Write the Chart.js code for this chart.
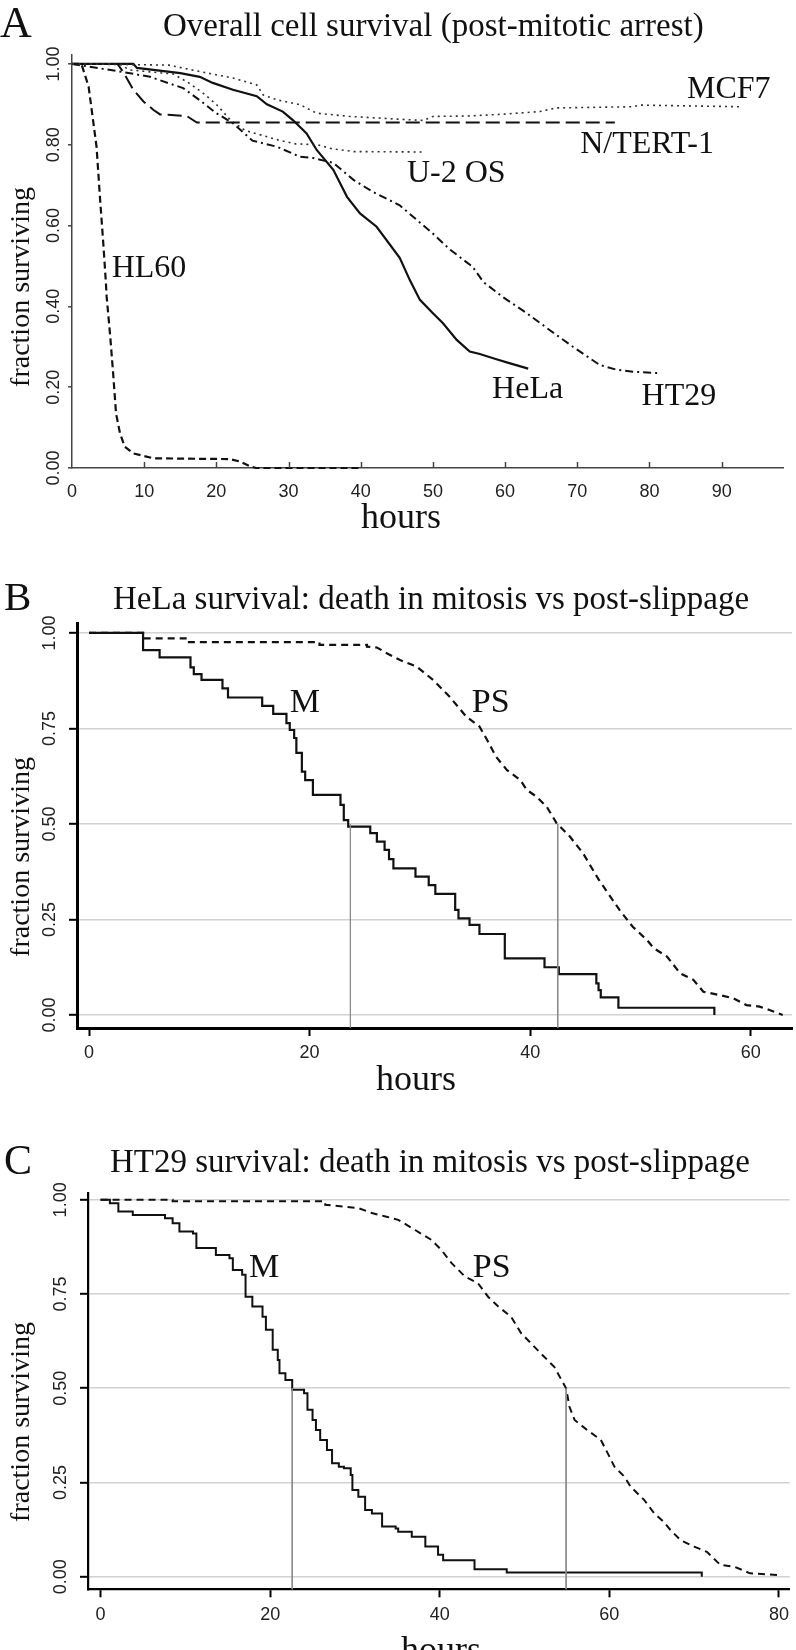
<!DOCTYPE html>
<html><head><meta charset="utf-8">
<script src="https://cdn.jsdelivr.net/npm/chart.js@4.4.1/dist/chart.umd.min.js"></script>
<style>
html,body{margin:0;padding:0;background:#fff;}
body{width:796px;height:1650px;position:relative;overflow:hidden;}
canvas{position:absolute;left:0;}
.t{position:absolute;font-family:'Liberation Serif','Times New Roman',serif;color:#111;white-space:nowrap;line-height:1;}
.rot{transform:translate(-50%,-50%) rotate(-90deg);}
.ctr{transform:translateX(-50%);}
</style></head><body>
<canvas id="cA" width="796" height="560" style="top:0px"></canvas>
<canvas id="cB" width="796" height="540" style="top:560px"></canvas>
<canvas id="cC" width="796" height="550" style="top:1100px"></canvas>

<div class="t" style="left:0px;top:1px;font-size:44px">A</div>
<div class="t" style="left:163px;top:9px;font-size:33px">Overall cell survival (post-mitotic arrest)</div>
<div class="t rot" style="left:19.5px;top:287px;font-size:28px">fraction surviving</div>
<div class="t ctr" style="left:401px;top:498px;font-size:36px">hours</div>

<div class="t" style="left:4px;top:576px;font-size:41px">B</div>
<div class="t" style="left:113px;top:582px;font-size:33px">HeLa survival: death in mitosis vs post-slippage</div>
<div class="t rot" style="left:19.5px;top:857px;font-size:28px">fraction surviving</div>
<div class="t ctr" style="left:416px;top:1060px;font-size:36px">hours</div>

<div class="t" style="left:4px;top:1139px;font-size:42px">C</div>
<div class="t" style="left:110px;top:1145px;font-size:33px">HT29 survival: death in mitosis vs post-slippage</div>
<div class="t rot" style="left:19.5px;top:1422px;font-size:28px">fraction surviving</div>
<div class="t ctr" style="left:441px;top:1631px;font-size:36px">hours</div>

<script>
// ---------- DATA (hours, fraction surviving) ----------
// Panel A: overall cell survival
const HL60 = [[0,1],[1.3,1],[2.3,0.944],[3.4,0.795],[3.9,0.663],[4.35,0.552],[4.7,0.457],[4.8,0.424],[5.3,0.325],[5.7,0.234],[6.1,0.135],[6.65,0.086],[7.3,0.053],[8.5,0.036],[11.3,0.024],[21.9,0.022],[23.3,0.016],[24.7,0.004],[25.5,0],[40,0]];
const NTERT1 = [[0,1],[6.3,1],[7.1,0.98],[8.5,0.936],[9.9,0.907],[11.3,0.886],[12.2,0.875],[15.9,0.871],[17.3,0.855],[75.2,0.855]];
const MCF7 = [[0,1],[13.4,0.997],[17.7,0.981],[22.3,0.965],[25.6,0.948],[26.5,0.923],[28.4,0.911],[31.6,0.899],[33.9,0.878],[38.5,0.87],[45.4,0.863],[48.7,0.86],[50,0.87],[54.7,0.871],[59.3,0.875],[64.8,0.882],[67.1,0.891],[77.7,0.894],[78.7,0.898],[92.5,0.894]];
const U2OS = [[0,1],[6.5,1],[8,0.985],[14,0.975],[16,0.955],[18,0.93],[20,0.9],[22,0.86],[24,0.835],[26,0.825],[28.5,0.812],[31,0.802],[34,0.8],[36,0.79],[39,0.783],[48.5,0.782]];
const HeLa = [[0,1],[8.5,1],[9,0.99],[15,0.977],[17.7,0.968],[19.5,0.953],[22.3,0.936],[25.6,0.92],[27,0.9],[29.2,0.882],[30.6,0.861],[32.5,0.828],[33.9,0.787],[36.2,0.738],[38.1,0.671],[39.9,0.63],[42.2,0.597],[45.4,0.52],[46.8,0.465],[48.2,0.416],[50,0.383],[51.4,0.358],[53.3,0.317],[55.1,0.288],[56.5,0.282],[58.8,0.269],[60.7,0.259],[63.2,0.246]];
const HT29 = [[0,1],[7,0.98],[10.8,0.968],[15.4,0.94],[17.7,0.91],[20,0.878],[22.3,0.853],[25,0.81],[28.4,0.795],[31.6,0.77],[33.4,0.767],[36.2,0.755],[39,0.713],[41.7,0.683],[45.4,0.65],[50,0.58],[52.4,0.54],[55.5,0.498],[57,0.46],[59.7,0.423],[63,0.383],[66.2,0.341],[69.4,0.3],[73.1,0.255],[75.5,0.243],[77.7,0.238],[81.2,0.235]];
const seriesNamesA = ['MCF7','N/TERT-1','U-2 OS','HL60','HeLa','HT29'];
const xTicksA = [0,10,20,30,40,50,60,70,80,90];
const yTicksA = [0,0.2,0.4,0.6,0.8,1.0];

// Panel B: HeLa, death in mitosis (M) vs post-slippage (PS)
const B_M = [[0,1],[4.9,0.955],[6.4,0.936],[9.2,0.910],[9.5,0.892],[10.2,0.877],[12.1,0.855],[12.6,0.831],[15.7,0.809],[16.7,0.788],[17.9,0.764],[18.2,0.746],[18.6,0.725],[18.8,0.686],[19.3,0.637],[19.6,0.615],[20.3,0.576],[22.8,0.55],[23.1,0.51],[23.5,0.493],[25.5,0.476],[26.1,0.454],[26.8,0.432],[27.2,0.408],[27.6,0.384],[29.6,0.362],[30.8,0.34],[31.4,0.317],[33.2,0.275],[33.5,0.253],[34.5,0.236],[35.4,0.212],[37.7,0.148],[41.3,0.125],[42.6,0.107],[46.0,0.083],[46.2,0.065],[46.4,0.046],[48.0,0.019],[56.7,0]];
const B_PS = [[0,1],[4.9,1],[4.9,0.986],[8.9,0.986],[8.9,0.976],[20.9,0.976],[20.9,0.969],[25.2,0.969],[25.2,0.964],[26.1,0.962],[27,0.947],[28.2,0.929],[29.7,0.912],[31.2,0.877],[32.7,0.833],[34.2,0.781],[35.4,0.755],[36.1,0.72],[36.9,0.676],[37.9,0.641],[39.1,0.615],[39.7,0.589],[40.6,0.571],[41.5,0.545],[42.4,0.502],[43.6,0.467],[44.8,0.423],[46.2,0.355],[48.1,0.275],[49.3,0.231],[50.6,0.196],[51.2,0.175],[52.4,0.153],[53.6,0.109],[54.8,0.092],[55.7,0.061],[57.2,0.052],[58.4,0.044],[59.6,0.026],[60.8,0.022],[61.7,0.013],[62.9,0]];
const B_medians = [23.7, 42.5];
const xTicksB = [0,20,40,60];
const yTicksBC = [0,0.25,0.5,0.75,1.0];

// Panel C: HT29, death in mitosis (M) vs post-slippage (PS)
const C_M = [[0,1],[1.1,0.991],[2.1,0.969],[3.8,0.96],[7.6,0.951],[8.5,0.938],[9.3,0.916],[10.9,0.911],[11.3,0.872],[13.6,0.854],[15.2,0.845],[15.6,0.814],[16.7,0.801],[17.1,0.743],[17.9,0.717],[19.1,0.69],[19.5,0.655],[20.3,0.602],[20.9,0.575],[21.1,0.54],[21.8,0.522],[22.6,0.496],[24,0.487],[24.4,0.443],[25,0.416],[25.4,0.389],[25.9,0.363],[26.7,0.336],[27.3,0.301],[28.1,0.292],[28.7,0.288],[29.5,0.27],[29.7,0.23],[30.4,0.212],[31.2,0.177],[32,0.168],[33.2,0.133],[34.8,0.128],[35.1,0.119],[36.7,0.106],[38.3,0.08],[39.8,0.058],[40.4,0.044],[44.1,0.02],[47.9,0.011],[70.9,0]];
const C_PS = [[0,1],[8.5,1],[8.5,0.996],[26.5,0.996],[26.5,0.987],[30.4,0.978],[32,0.965],[33.6,0.956],[35.1,0.947],[37.1,0.92],[39,0.894],[40.2,0.867],[41.4,0.832],[43,0.796],[44.5,0.779],[45.7,0.743],[46.9,0.717],[48.4,0.69],[49.6,0.646],[51.9,0.593],[53.5,0.557],[54.9,0.5],[55.3,0.451],[55.9,0.416],[57.4,0.389],[59,0.363],[59.8,0.328],[60.6,0.292],[61.8,0.265],[62.5,0.239],[64.1,0.204],[65.3,0.168],[66.4,0.146],[67.2,0.124],[68.4,0.097],[70,0.08],[71.5,0.066],[73.1,0.031],[74.7,0.027],[76.6,0.009],[80.1,0.004]];
const C_medians = [22.6, 54.9];
const xTicksC = [0,20,40,60,80];

// ---------- RENDERING ----------
Chart.defaults.animation = false;
Chart.defaults.devicePixelRatio = 1;

const toXY = pts => pts.map(p => ({x: p[0], y: p[1]}));
function ds(label, pts, style) {
  return Object.assign({label, data: toXY(pts), pointRadius: 0, borderColor: '#111', borderWidth: 2, fill: false, tension: 0, clip: false}, style);
}

const innerTicks = {
  id: 'innerTicks',
  afterDraw(chart, args, o) {
    if (!o || !o.values) return;
    const {ctx, chartArea} = chart; const xs = chart.scales.x;
    ctx.save(); ctx.strokeStyle = o.color; ctx.lineWidth = o.width;
    o.values.forEach(v => {
      const px = Math.round(xs.getPixelForValue(v)) + 0.5;
      ctx.beginPath(); ctx.moveTo(px, chartArea.bottom); ctx.lineTo(px, chartArea.bottom - o.len); ctx.stroke();
    });
    ctx.restore();
  }
};
const curveLabels = {
  id: 'curveLabels',
  afterDatasetsDraw(chart, args, o) {
    if (!o || !o.items) return;
    const {ctx} = chart;
    ctx.save(); ctx.fillStyle = '#111'; ctx.font = o.font; ctx.textAlign = 'left'; ctx.textBaseline = 'alphabetic';
    o.items.forEach(it => ctx.fillText(it.text, chart.scales.x.getPixelForValue(it.x), chart.scales.y.getPixelForValue(it.y)));
    ctx.restore();
  }
};

function makeChart(id, p) {
  const W = 796;
  return new Chart(document.getElementById(id), {
    type: 'line',
    data: {datasets: p.datasets},
    plugins: [innerTicks, curveLabels],
    options: {
      responsive: false, maintainAspectRatio: false,
      layout: {padding: {left: 0, top: p.area.top, right: W - p.area.right, bottom: 0}},
      plugins: {legend: {display: false}, tooltip: {enabled: false}, title: {display: false},
        innerTicks: p.innerTicks || {}, curveLabels: p.labels},
      scales: {
        x: {type: 'linear', min: p.xMin, max: p.xMax,
          afterBuildTicks: s => { s.ticks = p.xTicks.map(v => ({value: v})); },
          afterFit: s => { s.height = p.canvasH - p.area.bottom; },
          border: {display: true, color: p.axisColor, width: p.axisWidth},
          grid: {display: true, drawOnChartArea: false, drawTicks: p.xTickLen > 0, tickLength: p.xTickLen, tickColor: p.axisColor, tickWidth: p.tickWidth},
          ticks: {autoSkip: false, minRotation: 0, maxRotation: 0, padding: p.xPad, color: '#222',
            font: {family: "'Liberation Sans', Arial, sans-serif", size: 18}, callback: v => String(v)}
        },
        y: {type: 'linear', min: p.yMin, max: p.yMax,
          afterBuildTicks: s => { s.ticks = p.yTicks.map(v => ({value: v})); },
          afterFit: s => { s.width = p.area.left; },
          border: {display: true, color: p.axisColor, width: p.axisWidth},
          grid: {display: true, drawOnChartArea: p.hGrid, color: '#d2d2d2', lineWidth: 1.6, drawTicks: true, tickLength: p.yTickLen, tickColor: p.axisColor, tickWidth: p.tickWidth},
          ticks: {minRotation: 90, maxRotation: 90, crossAlign: 'center', padding: p.yPad, color: '#222',
            font: {family: "'Liberation Sans', Arial, sans-serif", size: 18}, callback: v => v.toFixed(2)}
        }
      }
    }
  });
}

// Panel A
makeChart('cA', {
  canvasH: 560, area: {left: 72, right: 783, top: 55, bottom: 468},
  xMin: 0, xMax: 98.5, yMin: 0, yMax: 1.022, xTicks: xTicksA, yTicks: yTicksA,
  axisColor: '#444', axisWidth: 1.5, tickWidth: 1.5, xTickLen: 0, yTickLen: 4, xPad: 13, yPad: -4, hGrid: false,
  innerTicks: {values: xTicksA.slice(1), len: 6, color: '#444', width: 1.5},
  labels: {font: "32px 'Liberation Serif', 'Times New Roman', serif", items: [
    {text: seriesNamesA[0], x: 85.2, y: 0.916},
    {text: seriesNamesA[1], x: 70.4, y: 0.78},
    {text: seriesNamesA[2], x: 46.4, y: 0.708},
    {text: seriesNamesA[3], x: 5.5, y: 0.473},
    {text: seriesNamesA[4], x: 58.2, y: 0.173},
    {text: seriesNamesA[5], x: 78.9, y: 0.156}
  ]},
  datasets: [
    ds('MCF7', MCF7, {borderDash: [2, 4], borderWidth: 1.6, borderColor: '#333'}),
    ds('N/TERT-1', NTERT1, {borderDash: [14, 6], borderWidth: 2}),
    ds('U-2 OS', U2OS, {borderDash: [2, 4], borderWidth: 1.6, borderColor: '#333'}),
    ds('HL60', HL60, {borderDash: [7, 4], borderWidth: 2.2}),
    ds('HeLa', HeLa, {borderWidth: 2.2}),
    ds('HT29', HT29, {borderDash: [8, 4, 2, 4], borderWidth: 2})
  ]
});

// Panel B
makeChart('cB', {
  canvasH: 540, area: {left: 77, right: 792, top: 63, bottom: 468},
  xMin: -1.09, xMax: 63.74, yMin: -0.034, yMax: 1.026, xTicks: xTicksB, yTicks: yTicksBC,
  axisColor: '#000', axisWidth: 3, tickWidth: 2, xTickLen: 8, yTickLen: 8, xPad: 6, yPad: 1.5, hGrid: true,
  labels: {font: "34px 'Liberation Serif', 'Times New Roman', serif", items: [
    {text: 'M', x: 18.2, y: 0.793}, {text: 'PS', x: 34.7, y: 0.793}
  ]},
  datasets: [
    ds('M median', [[B_medians[0], 0.5], [B_medians[0], -0.034]], {borderColor: '#8a8a8a', borderWidth: 1}),
    ds('PS median', [[B_medians[1], 0.5], [B_medians[1], -0.034]], {borderColor: '#8a8a8a', borderWidth: 1}),
    ds('M', B_M, {stepped: 'before', borderWidth: 2.2}),
    ds('PS', B_PS, {borderDash: [7, 5], borderWidth: 2.2})
  ]
});

// Panel C
makeChart('cC', {
  canvasH: 550, area: {left: 88, right: 793, top: 92.7, bottom: 489.3},
  xMin: -1.48, xMax: 81.27, yMin: -0.0334, yMax: 1.019, xTicks: xTicksC, yTicks: yTicksBC,
  axisColor: '#000', axisWidth: 2.2, tickWidth: 2, xTickLen: 8, yTickLen: 8, xPad: 7, yPad: 1.5, hGrid: true,
  labels: {font: "34px 'Liberation Serif', 'Times New Roman', serif", items: [
    {text: 'M', x: 17.5, y: 0.796}, {text: 'PS', x: 43.9, y: 0.796}
  ]},
  datasets: [
    ds('M median', [[C_medians[0], 0.5], [C_medians[0], -0.0334]], {borderColor: '#8a8a8a', borderWidth: 1}),
    ds('PS median', [[C_medians[1], 0.5], [C_medians[1], -0.0334]], {borderColor: '#8a8a8a', borderWidth: 1}),
    ds('M', C_M, {stepped: 'before', borderWidth: 2}),
    ds('PS', C_PS, {borderDash: [7, 5], borderWidth: 2})
  ]
});
</script>
</body></html>
